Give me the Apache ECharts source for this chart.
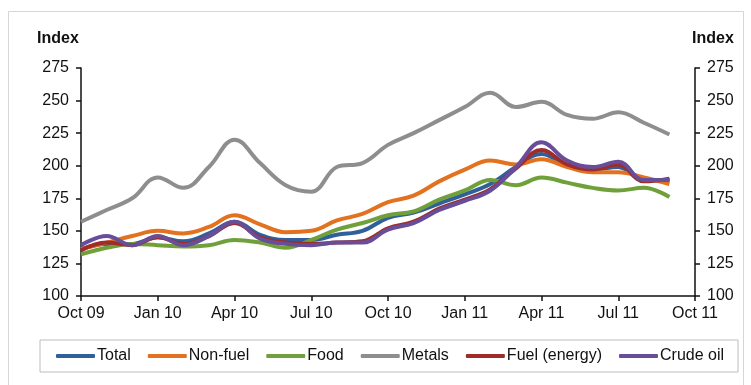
<!DOCTYPE html>
<html>
<head>
<meta charset="utf-8">
<script src="https://cdn.jsdelivr.net/npm/echarts@6/dist/echarts.min.js"></script>
<style>
  html, body { margin: 0; padding: 0; background: #fff; }
  #chart { width: 751px; height: 385px; }
</style>
</head>
<body>
<div id="chart"></div>
<script>
// Monthly commodity price indices, Oct 2009 – Sep 2011
const months = ['Oct 09','Nov 09','Dec 09','Jan 10','Feb 10','Mar 10','Apr 10','May 10','Jun 10',
                'Jul 10','Aug 10','Sep 10','Oct 10','Nov 10','Dec 10','Jan 11','Feb 11','Mar 11',
                'Apr 11','May 11','Jun 11','Jul 11','Aug 11','Sep 11','Oct 11'];
const axisTicks = [100, 125, 150, 175, 200, 225, 250, 275];

const total   = [136,140,140,145,142,148,157,147,143,143,147,150,160,164,171,178,186,199,209,200,197,199,189,189];
const nonFuel = [136,141,146,150,148,153,162,155,149,150,158,163,172,177,188,197,204,201,205,199,195,195,191,186];
const food    = [132,137,140,139,138,139,143,141,137,143,151,156,162,165,174,181,189,185,191,187,183,181,183,176];
const metals  = [157,166,175,191,183,199,220,202,185,180,199,202,216,225,235,245,256,245,249,239,236,241,233,224];
const fuel    = [135,141,139,145,140,146,156,145,141,140,141,142,152,157,167,174,182,198,212,201,197,201,188,190];
const crude   = [139,146,139,146,139,146,157,144,140,139,141,141,151,156,166,173,181,199,218,204,199,203,189,189];

const seriesDefs = [
  { name: 'Total',          data: total,   color: '#2f609a' },
  { name: 'Non-fuel',       data: nonFuel, color: '#e2721f' },
  { name: 'Food',           data: food,    color: '#70a03a' },
  { name: 'Metals',         data: metals,  color: '#8e8e8e' },
  { name: 'Fuel (energy)',  data: fuel,    color: '#a02b2b' },
  { name: 'Crude oil',      data: crude,   color: '#684e98' }
];

const font = 'Liberation Sans, Arial, sans-serif';
const axisCommon = {
  type: 'value',
  min: 100, max: 275, interval: 25,
  splitLine: { show: false },
  axisLine: { show: true, lineStyle: { color: '#111', width: 1.5 } },
  axisTick: { show: true, length: 5, lineStyle: { color: '#111', width: 1.5 } },
  axisLabel: { color: '#111', fontSize: 16, fontFamily: font, margin: 12 }
};

const chart = echarts.init(document.getElementById('chart'), null, { renderer: 'canvas' });
chart.setOption({
  animation: false,
  backgroundColor: '#fff',
  graphic: [
    { type: 'rect', shape: { x: 8.5, y: 11.5, width: 735, height: 400 },
      style: { fill: 'none', stroke: '#d6d6d6', lineWidth: 1 }, z: -1 },
    { type: 'text', left: 37, top: 31,
      style: { text: 'Index', font: 'bold 16px ' + font, fill: '#111' } },
    { type: 'text', left: 692, top: 31,
      style: { text: 'Index', font: 'bold 16px ' + font, fill: '#111' } }
  ],
  grid: { left: 81, right: 56, top: 68, bottom: 89, containLabel: false },
  xAxis: {
    type: 'value', min: 0, max: 24, interval: 3,
    splitLine: { show: false },
    axisLine: { show: true, lineStyle: { color: '#111', width: 1.5 } },
    axisTick: { show: true, length: 5, lineStyle: { color: '#111', width: 1.5 } },
    axisLabel: { color: '#111', fontSize: 16, fontFamily: font, margin: 10,
                 formatter: v => months[v] }
  },
  yAxis: [
    Object.assign({}, axisCommon, { position: 'left',
      axisLabel: Object.assign({}, axisCommon.axisLabel, { formatter: v => axisTicks.includes(v) ? String(v) : '' }) }),
    Object.assign({}, axisCommon, { position: 'right',
      axisLabel: Object.assign({}, axisCommon.axisLabel, { formatter: v => axisTicks.includes(v) ? String(v) : '' }) })
  ],
  legend: {
    left: 40, top: 340,
    padding: [8, 14, 8, 16],
    itemGap: 17, itemWidth: 39, itemHeight: 4,
    icon: 'roundRect',
    borderColor: '#bdbdbd', borderWidth: 1,
    textStyle: { color: '#111', fontSize: 16, fontFamily: font, padding: [0, 0, 0, -3] },
    data: seriesDefs.map(s => s.name)
  },
  series: seriesDefs.map(s => ({
    name: s.name,
    type: 'line',
    smooth: 0.4,
    symbol: 'none',
    color: s.color,
    lineStyle: { color: s.color, width: 4 },
    data: s.data.map((v, i) => [i, v])
  }))
});
</script>
</body>
</html>
